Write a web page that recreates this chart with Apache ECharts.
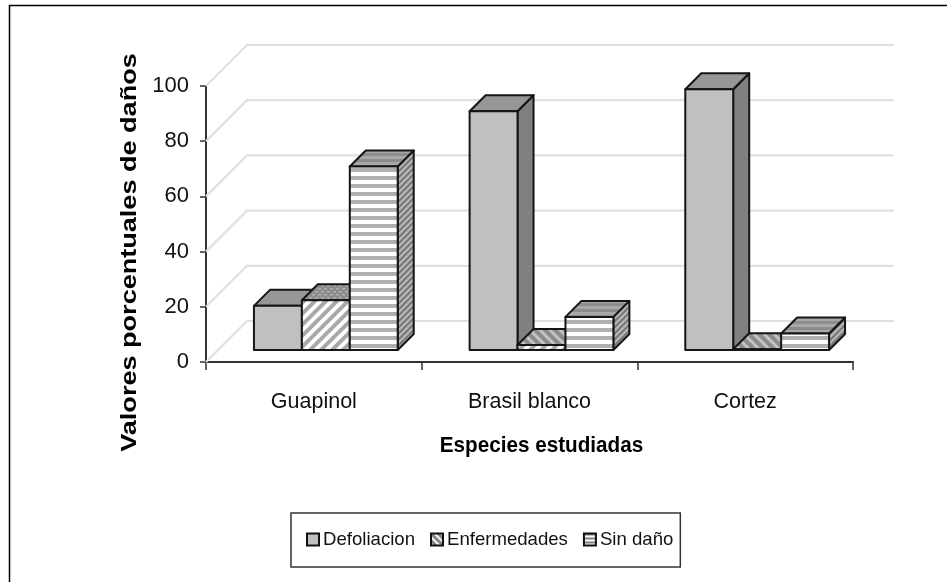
<!DOCTYPE html>
<html><head><meta charset="utf-8">
<style>html,body{margin:0;padding:0;background:#fff}#c{width:947px;height:582px}</style>
<script src="https://cdn.jsdelivr.net/npm/echarts@6/dist/echarts.min.js"></script>
</head><body><div id="c"></div>
<script>
var categories = ['Guapinol','Brasil blanco','Cortez'];
var defoliacion = [16, 86.5, 94.5];
var enfermedades = [18, 1.8, 0.3];
var sinDano = [66.5, 12, 6];
var yTicks = [0,20,40,60,80,100];
var seriesNames = ['Defoliacion','Enfermedades','Sin daño'];
var xTitle = 'Especies estudiadas';
var yTitle = 'Valores porcentuales de daños';

var FF = '"Liberation Sans", Arial, sans-serif';
function pat(w,h,draw){
  var c=document.createElement('canvas');c.width=w;c.height=h;
  var g=c.getContext('2d');g.fillStyle='#fff';g.fillRect(0,0,w,h);draw(g,w,h);
  return {image:c,repeat:'repeat'};
}
function diag(bg,fg,n,lw,up){return pat(n,n,function(g,w,h){
  g.fillStyle=bg;g.fillRect(0,0,w,h);g.strokeStyle=fg;g.lineWidth=lw;
  for(var i=-1;i<=1;i++){g.beginPath();
    if(up){g.moveTo(i*n-3,n+3);g.lineTo(i*n+n+3,-3);}else{g.moveTo(i*n-3,-3);g.lineTo(i*n+n+3,n+3);}
    g.stroke();}
});}
function stripes(a,b,n,k){return pat(4,n,function(g,w,h){
  g.fillStyle=a;g.fillRect(0,0,w,h);g.fillStyle=b;g.fillRect(0,0,w,k);
});}
var dots=pat(6,6,function(g){g.fillStyle='#8c8c8c';g.fillRect(0,0,6,6);g.fillStyle='#b0b0b0';g.fillRect(0,0,3,1.5);g.fillRect(3,3,3,1.5);});
var enfFlatTop=diag('#8c8c8c','#c4c4c4',10,3,false);
var styles=[
 {front:'#c0c0c0',top:'#969696',side:'#808080'},
 {front:diag('#fff','#a8a8a8',11,4,true),top:dots,side:diag('#8c8c8c','#c8c8c8',8,2,false)},
 {front:stripes('#fff','#b0b0b0',8,4),top:stripes('#8c8c8c','#a8a8a8',6,3),side:diag('#b8b8b8','#777',6,2,true)}
];
var legendIcons=[ '#c0c0c0', diag('#fff','#808080',7,3,false), stripes('#fff','#808080',4,2) ];

var seriesData=[defoliacion,enfermedades,sinDano];
var floorOff=12, barDepth=16, wallOff=41;

function barRender(si){return function(params,api){
  var i=api.value(0), v=api.value(1);
  var base=api.coord([i,0]), top=api.coord([i,v]);
  var band=api.size([1,0])[0];
  var bw=band*0.2222;
  var x0=base[0]-bw*1.5+bw*si+floorOff, x1=x0+bw;
  var yb=base[1]-floorOff, yt=top[1]-floorOff, d=barDepth;
  var s=styles[si], st={stroke:'#151515',lineWidth:2,lineJoin:'round'};
  var topFill=(si===1&&v<5)?enfFlatTop:s.top;
  function poly(points,fill){return {type:'polygon',shape:{points:points},style:Object.assign({fill:fill},st)};}
  return {type:'group',children:[
    poly([[x1,yb],[x1+d,yb-d],[x1+d,yt-d],[x1,yt]],s.side),
    poly([[x0,yt],[x0+d,yt-d],[x1+d,yt-d],[x1,yt]],topFill),
    poly([[x0,yb],[x1,yb],[x1,yt],[x0,yt]],s.front)
  ]};
};}
function wallRender(params,api){
  var v=api.value(0), p=api.coord([0,v]), cs=params.coordSys;
  var x0=cs.x, x1=cs.x+cs.width, y=p[1];
  return {type:'polyline',shape:{points:[[x0,y],[x0+wallOff,y-wallOff],[x1+wallOff,y-wallOff]]},
    style:{fill:'none',stroke:'#e0e0e0',lineWidth:2.2}};
}
var series=[{type:'custom',name:'wall',silent:true,clip:false,z:1,renderItem:wallRender,
  encode:{y:0},data:yTicks.map(function(t){return [t];})}];
seriesData.forEach(function(vals,si){
  series.push({type:'custom',name:seriesNames[si],clip:false,z:2+si,renderItem:barRender(si),
    itemStyle:{color:legendIcons[si],borderColor:'#111',borderWidth:2},
    encode:{x:0,y:1},data:vals.map(function(v,i){return [i,v];})});
});
var chart=echarts.init(document.getElementById('c'),null,{renderer:'canvas'});
chart.setOption({
  animation:false,backgroundColor:'#fff',
  grid:{left:206,top:86,width:647,height:276,containLabel:false},
  xAxis:{type:'category',data:categories,boundaryGap:true,
    axisLine:{onZero:false,lineStyle:{color:'#333',width:2}},
    axisTick:{show:true,length:8,inside:false,lineStyle:{color:'#333',width:1.5}},
    axisLabel:{color:'#111',fontFamily:FF,fontSize:21.5,margin:29}},
  yAxis:{type:'value',min:0,max:100,interval:20,
    axisLine:{show:true,lineStyle:{color:'#333',width:2}},
    axisTick:{show:true,length:6,lineStyle:{color:'#333',width:1.5}},
    splitLine:{show:false},
    axisLabel:{color:'#111',fontFamily:FF,fontSize:22,margin:17}},
  legend:{left:291,top:513,data:seriesNames,padding:[17,7,18,15],itemGap:15,icon:'rect',
    itemWidth:12,itemHeight:12,backgroundColor:'#fff',borderColor:'#333',borderWidth:1.5,
    textStyle:{color:'#111',fontFamily:FF,fontSize:18.6,padding:[0,0,0,-1]}},
  graphic:[
    {type:'polyline',shape:{points:[[9.5,582],[9.5,5.5],[947,5.5]]},style:{fill:'none',stroke:'#000',lineWidth:1.5},silent:true},
    {type:'text',x:541.5,y:446,scaleX:0.94,silent:true,
      style:{text:xTitle,font:'bold 22px "Liberation Sans", Arial, sans-serif',fill:'#000',textAlign:'center',textVerticalAlign:'middle'}},
    {type:'text',x:130,y:252.5,rotation:Math.PI/2,scaleX:1.23,silent:true,
      style:{text:yTitle,font:'bold 22px "Liberation Sans", Arial, sans-serif',fill:'#000',textAlign:'center',textVerticalAlign:'middle'}}
  ],
  series:series
});
</script></body></html>
